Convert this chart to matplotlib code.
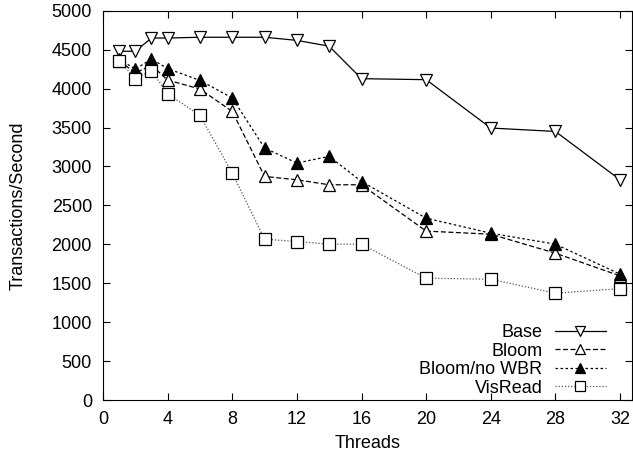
import numpy as np
import matplotlib.pyplot as plt

plt.rcParams['font.family'] = ['Liberation Sans', 'DejaVu Sans']

threads = [1, 2, 3, 4, 6, 8, 10, 12, 14, 16, 20, 24, 28, 32]
base = [4480, 4480, 4650, 4650, 4660, 4660, 4660, 4620, 4545, 4128, 4115, 3494, 3450, 2829]
bloom = [4360, 4200, 4300, 4110, 3995, 3708, 2872, 2829, 2765, 2765, 2170, 2130, 1886, 1595]
bloom_nowbr = [4380, 4250, 4381, 4257, 4106, 3880, 3237, 3044, 3130, 2807, 2336, 2143, 2002, 1617]
visread = [4360, 4128, 4231, 3935, 3656, 2915, 2066, 2036, 2002, 2002, 1565, 1552, 1372, 1431]

fig = plt.figure(figsize=(6.33, 4.59), dpi=100)
ax = fig.add_axes([0.1627, 0.1285, 0.8357, 0.848])

ms = 9
ax.plot(threads, base, color='black', ls='-', lw=0.9, marker='v', ms=ms, mfc='white', mec='black', mew=0.9, label='Base')
ax.plot(threads, bloom, color='black', ls=(0, (4, 2)), lw=0.9, marker='^', ms=ms, mfc='white', mec='black', mew=0.9, label='Bloom')
ax.plot(threads, bloom_nowbr, color='black', ls=(0, (2, 2)), lw=0.9, marker='^', ms=ms, mfc='black', mec='black', mew=0.9, label='Bloom/no WBR')
ax.plot(threads, visread, color='#555555', ls=(0, (1, 1.5)), lw=0.9, marker='s', ms=ms, mfc='white', mec='black', mew=0.9, label='VisRead')

ax.set_xlim(0, 32.74)
ax.set_ylim(0, 5000)
ax.set_xticks(range(0, 33, 4))
ax.set_yticks(range(0, 5001, 500))
ax.tick_params(direction='in', top=True, right=True, labelsize=13, length=5, pad=8)
ax.set_xlabel('Threads', fontsize=13, labelpad=5)
ax.set_ylabel('Transactions/Second', fontsize=13, labelpad=18)

ax.legend(loc='lower right', frameon=False, markerfirst=False, fontsize=13,
          handlelength=2.8, handletextpad=0.7, labelspacing=0.08,
          markerscale=0.8, borderaxespad=0, bbox_to_anchor=(0.964, -0.01))

fig.savefig('out.png', dpi=100)
